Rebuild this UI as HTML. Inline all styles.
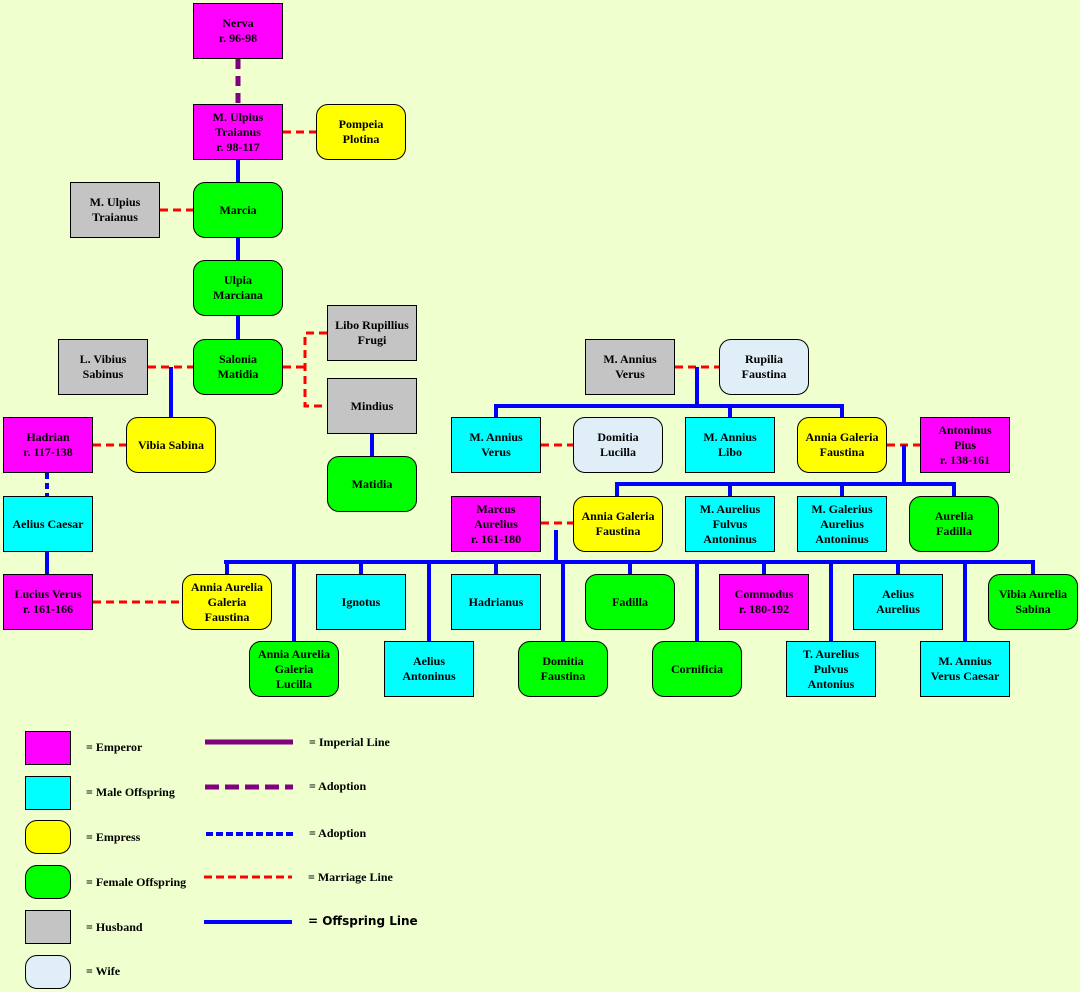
<!DOCTYPE html>
<html><head><style>
body{margin:0;background:#efffce;}
#c{position:relative;width:1080px;height:992px;background:#efffce;font-family:"Liberation Serif",serif;font-weight:bold;font-size:12px;overflow:hidden}
.n{position:absolute;width:88px;height:54px;border:1px solid #000;display:flex;align-items:center;justify-content:center;text-align:center;line-height:15px;box-sizing:content-box}
.r{border-radius:12px}
.E{background:#ff00ff}.M{background:#00ffff}.Y{background:#ffff00}.G{background:#00ff00}.H{background:#c4c4c4}.W{background:#dfeef7}
.lg{position:absolute;width:44px;height:32px;border:1px solid #000}
.t{position:absolute;font-size:12px;white-space:nowrap}
svg{position:absolute;left:0;top:0}
</style></head><body><div id="c">
<svg width="1080" height="992">
<g fill="none" stroke-width="4">
<line x1="238" y1="59" x2="238" y2="104" stroke="#800080" stroke-width="5" stroke-dasharray="10,7"/>
<g stroke="#f00" stroke-width="3" stroke-dasharray="8,5">
<line x1="283" y1="132" x2="316" y2="132"/>
<line x1="160" y1="210" x2="193" y2="210"/>
<line x1="148" y1="367" x2="193" y2="367"/>
<polyline points="283,367 305,367"/>
<polyline points="327,333 305,333 305,406 327,406"/>
<line x1="93" y1="445" x2="126" y2="445"/>
<line x1="93" y1="602" x2="182" y2="602"/>
<line x1="675" y1="367" x2="719" y2="367"/>
<line x1="541" y1="445" x2="573" y2="445"/>
<line x1="887" y1="445" x2="920" y2="445"/>
<line x1="541" y1="523" x2="573" y2="523"/>
</g>
<g stroke="#0000ff">
<line x1="238" y1="160" x2="238" y2="182"/>
<line x1="238" y1="238" x2="238" y2="260"/>
<line x1="238" y1="316" x2="238" y2="339"/>
<line x1="171" y1="367" x2="171" y2="417"/>
<line x1="372" y1="434" x2="372" y2="456"/>
<line x1="47" y1="552" x2="47" y2="574"/>
<line x1="47" y1="473" x2="47" y2="496" stroke-dasharray="6,4"/>
<line x1="697" y1="367" x2="697" y2="406"/>
<line x1="494" y1="406" x2="844" y2="406"/>
<line x1="496" y1="406" x2="496" y2="417"/>
<line x1="730" y1="406" x2="730" y2="417"/>
<line x1="842" y1="406" x2="842" y2="417"/>
<line x1="904" y1="445" x2="904" y2="484"/>
<line x1="615" y1="484" x2="956" y2="484"/>
<line x1="617" y1="484" x2="617" y2="496"/>
<line x1="730" y1="484" x2="730" y2="496"/>
<line x1="842" y1="484" x2="842" y2="496"/>
<line x1="954" y1="484" x2="954" y2="496"/>
<line x1="556" y1="530" x2="556" y2="562"/>
<line x1="224" y1="562" x2="1035" y2="562"/>
<line x1="227" y1="562" x2="227" y2="574"/>
<line x1="294" y1="562" x2="294" y2="641"/>
<line x1="361" y1="562" x2="361" y2="574"/>
<line x1="429" y1="562" x2="429" y2="641"/>
<line x1="496" y1="562" x2="496" y2="574"/>
<line x1="563" y1="562" x2="563" y2="641"/>
<line x1="630" y1="562" x2="630" y2="574"/>
<line x1="697" y1="562" x2="697" y2="641"/>
<line x1="764" y1="562" x2="764" y2="574"/>
<line x1="831" y1="562" x2="831" y2="641"/>
<line x1="898" y1="562" x2="898" y2="574"/>
<line x1="965" y1="562" x2="965" y2="641"/>
<line x1="1033" y1="562" x2="1033" y2="574"/>
</g>
<line x1="205" y1="742" x2="293" y2="742" stroke="#800080" stroke-width="5"/>
<line x1="205" y1="787" x2="293" y2="787" stroke="#800080" stroke-width="5" stroke-dasharray="14,6"/>
<line x1="206" y1="834" x2="294" y2="834" stroke="#0000ff" stroke-width="4" stroke-dasharray="7,3"/>
<line x1="204" y1="877" x2="292" y2="877" stroke="#f00" stroke-width="3" stroke-dasharray="8,4"/>
<line x1="204" y1="922" x2="292" y2="922" stroke="#0000ff" stroke-width="4"/>
</g>
</svg>
<div class="n E" style="left:193px;top:3px">Nerva<br>r. 96-98</div>
<div class="n E" style="left:193px;top:104px">M. Ulpius<br>Traianus<br>r. 98-117</div>
<div class="n Y r" style="left:316px;top:104px">Pompeia<br>Plotina</div>
<div class="n H" style="left:70px;top:182px">M. Ulpius<br>Traianus</div>
<div class="n G r" style="left:193px;top:182px">Marcia</div>
<div class="n G r" style="left:193px;top:260px">Ulpia<br>Marciana</div>
<div class="n G r" style="left:193px;top:339px">Salonia<br>Matidia</div>
<div class="n H" style="left:58px;top:339px">L. Vibius<br>Sabinus</div>
<div class="n H" style="left:327px;top:305px">Libo Rupillius<br>Frugi</div>
<div class="n H" style="left:327px;top:378px">Mindius</div>
<div class="n G r" style="left:327px;top:456px">Matidia</div>
<div class="n Y r" style="left:126px;top:417px">Vibia Sabina</div>
<div class="n E" style="left:3px;top:417px">Hadrian<br>r. 117-138</div>
<div class="n M" style="left:3px;top:496px">Aelius Caesar</div>
<div class="n E" style="left:3px;top:574px">Lucius Verus<br>r. 161-166</div>
<div class="n Y r" style="left:182px;top:574px">Annia Aurelia<br>Galeria<br>Faustina</div>
<div class="n H" style="left:585px;top:339px">M. Annius<br>Verus</div>
<div class="n W r" style="left:719px;top:339px">Rupilia<br>Faustina</div>
<div class="n M" style="left:451px;top:417px">M. Annius<br>Verus</div>
<div class="n W r" style="left:573px;top:417px">Domitia<br>Lucilla</div>
<div class="n M" style="left:685px;top:417px">M. Annius<br>Libo</div>
<div class="n Y r" style="left:797px;top:417px">Annia Galeria<br>Faustina</div>
<div class="n E" style="left:920px;top:417px">Antoninus<br>Pius<br>r. 138-161</div>
<div class="n E" style="left:451px;top:496px">Marcus<br>Aurelius<br>r. 161-180</div>
<div class="n Y r" style="left:573px;top:496px">Annia Galeria<br>Faustina</div>
<div class="n M" style="left:685px;top:496px">M. Aurelius<br>Fulvus<br>Antoninus</div>
<div class="n M" style="left:797px;top:496px">M. Galerius<br>Aurelius<br>Antoninus</div>
<div class="n G r" style="left:909px;top:496px">Aurelia<br>Fadilla</div>
<div class="n M" style="left:316px;top:574px">Ignotus</div>
<div class="n M" style="left:451px;top:574px">Hadrianus</div>
<div class="n G r" style="left:585px;top:574px">Fadilla</div>
<div class="n E" style="left:719px;top:574px">Commodus<br>r. 180-192</div>
<div class="n M" style="left:853px;top:574px">Aelius<br>Aurelius</div>
<div class="n G r" style="left:988px;top:574px">Vibia Aurelia<br>Sabina</div>
<div class="n G r" style="left:249px;top:641px">Annia Aurelia<br>Galeria<br>Lucilla</div>
<div class="n M" style="left:384px;top:641px">Aelius<br>Antoninus</div>
<div class="n G r" style="left:518px;top:641px">Domitia<br>Faustina</div>
<div class="n G r" style="left:652px;top:641px">Cornificia</div>
<div class="n M" style="left:786px;top:641px">T. Aurelius<br>Pulvus<br>Antonius</div>
<div class="n M" style="left:920px;top:641px">M. Annius<br>Verus Caesar</div>
<div class="lg E" style="left:25px;top:731px"></div>
<div class="lg M" style="left:25px;top:776px"></div>
<div class="lg Y r" style="left:25px;top:820px"></div>
<div class="lg G r" style="left:25px;top:865px"></div>
<div class="lg H" style="left:25px;top:910px"></div>
<div class="lg W r" style="left:25px;top:955px"></div>
<div class="t" style="left:86px;top:740px">= Emperor</div>
<div class="t" style="left:86px;top:785px">= Male Offspring</div>
<div class="t" style="left:86px;top:830px">= Empress</div>
<div class="t" style="left:86px;top:875px">= Female Offspring</div>
<div class="t" style="left:86px;top:920px">= Husband</div>
<div class="t" style="left:86px;top:964px">= Wife</div>
<div class="t" style="left:309px;top:735px">= Imperial Line</div>
<div class="t" style="left:309px;top:779px">= Adoption</div>
<div class="t" style="left:309px;top:826px">= Adoption</div>
<div class="t" style="left:308px;top:870px">= Marriage Line</div>
<div class="t" style="left:308px;top:914px;font-family:'DejaVu Sans',sans-serif">= Offspring Line</div>
</div></body></html>
